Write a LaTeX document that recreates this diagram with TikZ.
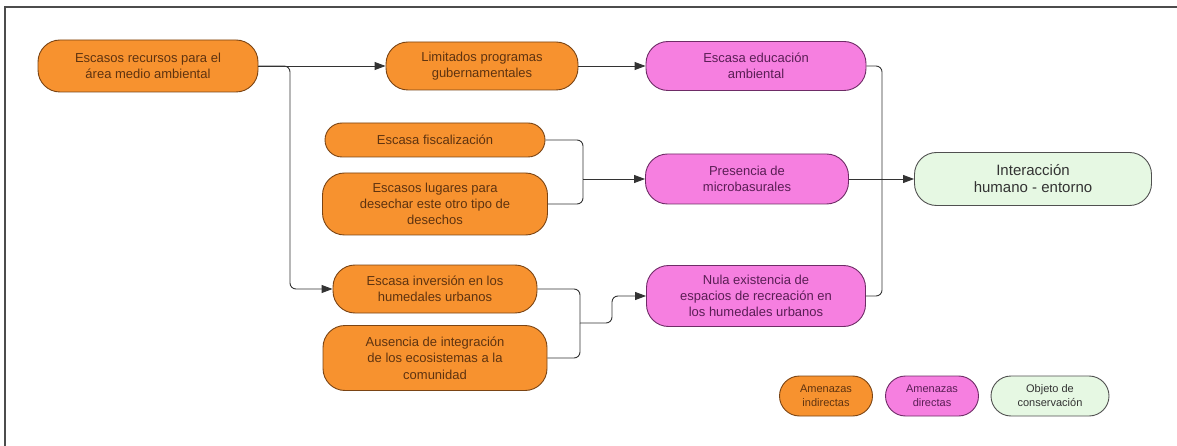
\documentclass[tikz,border=0pt]{standalone}
\usepackage{fontspec}
\setmainfont{Liberation Sans}
\usepackage{tikz}
\usetikzlibrary{positioning,arrows.meta}

\definecolor{naranja}{HTML}{F7922F}
\definecolor{naranjaborde}{HTML}{7A4414}
\definecolor{naranjatexto}{HTML}{5E3310}
\definecolor{rosa}{HTML}{F67FE0}
\definecolor{rosaborde}{HTML}{6E2C66}
\definecolor{rosatexto}{HTML}{5A1E55}
\definecolor{verde}{HTML}{E6F8E3}
\definecolor{verdeborde}{HTML}{505050}
\definecolor{linea}{HTML}{333333}

\begin{document}
\begin{tikzpicture}[x=1pt, y=-1pt,
    caja/.style={draw, line width=0.9pt, rounded corners=22pt, align=center,
      inner sep=0pt, font=\fontsize{13}{16.3}\selectfont},
    indirecta/.style={caja, fill=naranja, draw=naranjaborde, text=naranjatexto},
    directa/.style={caja, fill=rosa, draw=rosaborde, text=rosatexto},
    objeto/.style={caja, fill=verde, draw=verdeborde, text=black!80},
    leyenda/.style={rounded corners=20pt, minimum height=40pt,
      font=\fontsize{11}{14}\selectfont},
    flecha/.style={draw=linea, line width=0.9pt, -{Triangle[length=11pt,width=8pt]}},
    union/.style={draw=linea, line width=0.9pt, rounded corners=6pt}]
  \useasboundingbox (0,0) rectangle (1177,446);
  \draw[line width=1.6pt, black!70] (5,446) -- (5,7) -- (1177,7);

  \node (A) [indirecta, minimum width=220pt, minimum height=52pt] at (148,66)
    {Escasos recursos para el\\área medio ambiental};
  \node (B) [indirecta, minimum width=192pt, minimum height=48pt,
    node distance=334pt, right of=A] {Limitados programas\\gubernamentales};
  \node (C) [directa, minimum width=220pt, minimum height=49pt,
    node distance=274pt, right of=B] {Escasa educación\\ambiental};
  \node (D) [indirecta, rounded corners=17pt, minimum width=220pt, minimum height=34pt]
    at (435,140) {Escasa fiscalización};
  \node (E) [indirecta, minimum width=225pt, minimum height=62pt,
    node distance=64pt, below of=D]
    {Escasos lugares para\\desechar este otro tipo de\\desechos};
  \node (F) [directa, minimum width=203pt, minimum height=50pt] at (747,179)
    {Presencia de\\microbasurales};
  \node (G) [objeto, minimum width=237pt, minimum height=53pt,
    font=\fontsize{15}{17}\selectfont, node distance=286pt, right of=F]
    {Interacción\\humano - entorno};
  \node (H) [indirecta, minimum width=204pt, minimum height=48pt] at (435,289)
    {Escasa inversión en los\\humedales urbanos};
  \node (I) [indirecta, minimum width=224pt, minimum height=65pt,
    node distance=69pt, below of=H]
    {Ausencia de integración\\de los ecosistemas a la\\comunidad};
  \node (J) [directa, minimum width=219pt, minimum height=61pt,
    node distance=230pt, below of=C]
    {Nula existencia de\\espacios de recreación en\\los humedales urbanos};

  % leyenda
  \node (L1) [indirecta, leyenda, minimum width=93pt] at (826,396)
    {Amenazas\\indirectas};
  \node (L2) [directa, leyenda, minimum width=93pt, node distance=106pt,
    right of=L1] {Amenazas\\directas};
  \node (L3) [objeto, leyenda, minimum width=118pt, node distance=118pt,
    right of=L2] {Objeto de\\conservación};

  \coordinate (sA) at (290,66);
  \coordinate (sDE) at (583,179);
  \coordinate (sHI) at (580,323);
  \coordinate (sG) at (882,179);

  \draw[flecha] (A.east) -- (B.west);
  \draw[flecha, rounded corners=6pt] (A.east) -- (sA) |- (H.west);
  \draw[flecha] (B.east) -- (C.west);
  \draw[union] (D.east) -| (sDE);
  \draw[union] (E.east) -| (sDE);
  \draw[flecha] (sDE) -- (F.west);
  \draw[union] (H.east) -| (sHI);
  \draw[union] (I.east) -| (sHI);
  \draw[flecha, rounded corners=6pt] (sHI) -- ++(32,0) |- (J.west);
  \draw[union] (C.east) -| (sG);
  \draw[union] (J.east) -| (sG);
  \draw[flecha] (F.east) -- (G.west);
\end{tikzpicture}
\end{document}
